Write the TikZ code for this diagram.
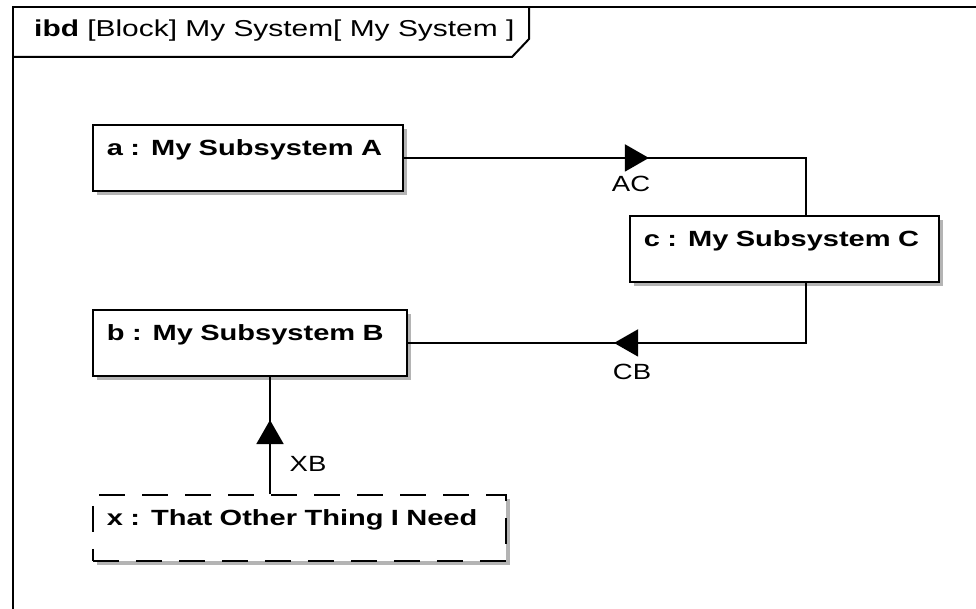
\documentclass[tikz,border=0pt]{standalone}
\usepackage{fontspec}
\setmainfont{Liberation Sans}
\newfontfamily\partfont[FakeStretch=1.32]{Liberation Sans}
\newfontfamily\flowfont[FakeStretch=1.25]{Liberation Sans}
\newfontfamily\framefont[FakeStretch=1.3]{Liberation Sans}
\usetikzlibrary{arrows.meta,positioning,shadows,decorations.markings}
\definecolor{cShade}{HTML}{B4B4B4}
\tikzset{
  partbox/.style={draw=black,fill=white,line width=1.9pt,anchor=north west,align=left,
    inner xsep=14pt,inner ysep=0pt,text height=31pt,text depth=35pt,text width=#1,
    font=\partfont\bfseries\fontsize{22}{24}\selectfont,
    drop shadow={shadow xshift=4pt,shadow yshift=-4pt,fill=cShade,opacity=1}},
  conn/.style={line width=1.8pt,draw=black},
  flowmark/.style={postaction={decorate},decoration={markings,
    mark=at position #1 with {\arrow{Triangle[length=24pt,width=27pt]}}}},
  flowlabel/.style={font=\flowfont\fontsize{22}{24}\selectfont,inner sep=0pt},
  frameline/.style={line width=2pt,draw=black},
}

\begin{document}
\begin{tikzpicture}[x=1pt,y=-1pt]
  \useasboundingbox (0,0) rectangle (976,609);
  \clip (0,0) rectangle (976,609);
  % diagram frame and its name tab
  \draw[frameline] (13,609) -- (13,7) -- (976,7);
  \draw[frameline] (13,57) -- (512,57) -- (529,39) -- (529,7);
  \node[anchor=west,inner sep=0pt,font=\framefont\fontsize{23}{24}\selectfont] (title) at (34,31)
    {\textbf{ibd} [Block] My System[ My System ]};

  % parts
  \node[partbox=282pt] (a) at (92,124) {a : My Subsystem A};
  \node[partbox=281pt] (c) at (629,215) {c : My Subsystem C};
  \node[partbox=286pt] (b) at (92,309) {b : My Subsystem B};
  \node[partbox=385pt,dash pattern=on 26pt off 17pt] (x) at (92,494) {x : That Other Thing I Need};

  \coordinate (acx) at (806,0);
  \coordinate (xbx) at (270,0);

  % connectors with item flows
  \draw[conn,flowmark=245pt] (a.east) -- (a.east -| acx) -- (c.north -| acx);
  \draw[conn,flowmark=252pt] (c.south -| acx) -- (b.east -| acx) -- (b.east);
  \draw[conn,flowmark=74pt] (x.north -| xbx) -- (b.south -| xbx);

  \node[flowlabel] (aclabel) at (631,184) {AC};
  \node[flowlabel] (cblabel) at (632,372) {CB};
  \node[flowlabel] (xblabel) at (308,464) {XB};
\end{tikzpicture}
\end{document}
